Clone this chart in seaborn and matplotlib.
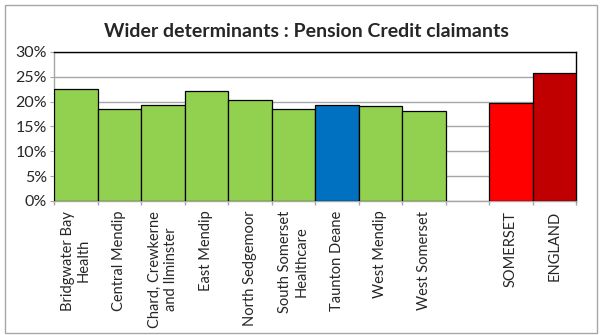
import matplotlib
matplotlib.use("Agg")
import matplotlib.pyplot as plt
import seaborn as sns
import pandas as pd
import numpy as np
from matplotlib.patches import Rectangle
from matplotlib.ticker import MultipleLocator, FuncFormatter

categories = [
    "Bridgwater Bay\nHealth", "Central Mendip", "Chard, Crewkerne\nand Ilminster",
    "East Mendip", "North Sedgemoor", "South Somerset\nHealthcare", "Taunton Deane",
    "West Mendip", "West Somerset", " ", "SOMERSET", "ENGLAND",
]
values = [22.5, 18.5, 19.4, 22.2, 20.3, 18.5, 19.3, 19.2, 18.1, np.nan, 19.7, 25.8]
colors = ["#92D050"] * 6 + ["#0070C0"] + ["#92D050"] * 2 + ["#FFFFFF", "#FF0000", "#C00000"]

df = pd.DataFrame({"area": categories, "pct": values})
palette = dict(zip(categories, colors))

sns.set_style("white")
plt.rcParams["font.family"] = ["Lato", "DejaVu Sans"]

fig = plt.figure(figsize=(6.0, 3.35), dpi=100)
ax = fig.add_axes([0.09, 0.4, 0.87, 0.445])

sns.barplot(data=df, x="area", y="pct", hue="area", order=categories,
            palette=palette, saturation=1, width=1.0, edgecolor="black",
            linewidth=0.9, legend=False, ax=ax, zorder=3)

ax.set_xlim(-0.5, len(categories) - 0.5)
ax.set_ylim(0, 30)
ax.yaxis.set_major_locator(MultipleLocator(5))
ax.yaxis.set_major_formatter(FuncFormatter(lambda v, p: f"{v:.0f}%"))
ax.grid(axis="y", color="#A6A6A6", linewidth=1.0, zorder=0)
ax.set_axisbelow(True)

ax.set_xlabel("")
ax.set_ylabel("")
ax.set_xticks(range(len(categories)))
ax.set_xticklabels(categories, rotation=90, ha="center", va="top",
                   multialignment="center", fontsize=10.5, linespacing=1.2)
ax.set_xticks(np.arange(-0.5, len(categories)), minor=True)
ax.tick_params(axis="x", which="major", length=0, pad=7)
ax.tick_params(axis="x", which="minor", length=3, color="#A6A6A6", width=1.0,
               direction="out", bottom=True)
ax.tick_params(axis="y", length=3, color="#A6A6A6", labelsize=11.5, pad=2,
               direction="out", left=True)

for side in ["top", "right"]:
    ax.spines[side].set_color("black")
    ax.spines[side].set_linewidth(1.0)
for side in ["left", "bottom"]:
    ax.spines[side].set_color("#A6A6A6")
    ax.spines[side].set_linewidth(1.0)

fig.text(0.51, 0.905, "Wider determinants : Pension Credit claimants",
         ha="center", va="center", fontsize=14, fontweight="bold")

fig.patches.append(Rectangle((5 / 600, 2 / 335), 592 / 600, 328 / 335,
                             transform=fig.transFigure, fill=False,
                             edgecolor="#A6A6A6", linewidth=1.0))

fig.savefig("out.png", dpi=100)
